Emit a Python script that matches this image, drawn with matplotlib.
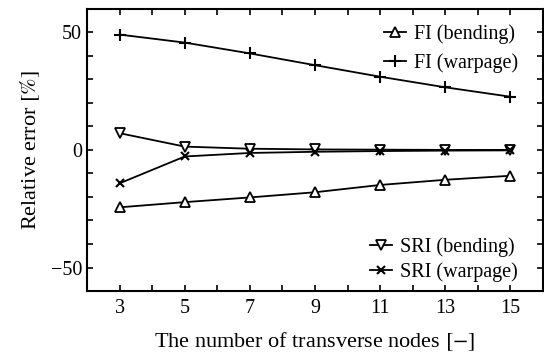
import matplotlib
matplotlib.use("Agg")
import matplotlib.pyplot as plt
from matplotlib.ticker import MultipleLocator, FixedLocator

nodes = [3, 5, 7, 9, 11, 13, 15]
fi_bending = [-24.4, -22.2, -20.2, -18.0, -14.9, -12.7, -11.0]
fi_warpage = [49.0, 45.6, 41.0, 36.0, 31.1, 26.6, 22.6]
sri_bending = [7.1, 1.4, 0.5, 0.2, 0.1, 0.0, 0.0]
sri_warpage = [-14.2, -2.8, -1.3, -0.8, -0.5, -0.3, -0.2]

plt.rcParams['font.family'] = ['Liberation Serif', 'DejaVu Serif']
plt.rcParams['mathtext.fontset'] = 'stix'
plt.rcParams['font.size'] = 14.5

fig = plt.figure(figsize=(5.44, 3.55), dpi=100)
ax = fig.add_axes([0.16, 0.18, 0.838, 0.7955])

lw = 1.3
l1, = ax.plot(nodes, fi_bending, color='black', lw=lw, marker='^', ms=7,
              mfc='white', mec='black', mew=1.3, label='FI (bending)')
l2, = ax.plot(nodes, fi_warpage, color='black', lw=lw, marker='+', ms=8,
              mew=1.5, label='FI (warpage)')
l3, = ax.plot(nodes, sri_bending, color='black', lw=lw, marker='v', ms=7,
              mfc='white', mec='black', mew=1.3, label='SRI (bending)')
l4, = ax.plot(nodes, sri_warpage, color='black', lw=lw, marker='x', ms=6,
              mew=1.5, label='SRI (warpage)')

ax.set_xlim(2, 16)
ax.set_ylim(-60, 60)
ax.xaxis.set_major_locator(FixedLocator(nodes))
ax.xaxis.set_minor_locator(MultipleLocator(1))
ax.yaxis.set_major_locator(MultipleLocator(50))
ax.yaxis.set_minor_locator(MultipleLocator(10))
ax.tick_params(which='both', direction='in', top=True, right=True,
               length=4, width=1.2)
ax.tick_params(axis='x', pad=6)
for s in ax.spines.values():
    s.set_linewidth(1.5)

ax.set_xlabel(r'The number of transverse nodes $[-]$', fontsize=16, labelpad=9)
ax.set_ylabel(r'Relative error $[\%]$', fontsize=16, labelpad=6)

leg1 = ax.legend(handles=[l1, l2], loc='upper right', bbox_to_anchor=(0.959, 0.965),
                 frameon=False, handlelength=1.1, handletextpad=0.4,
                 labelspacing=0.45, borderaxespad=0, borderpad=0.3)
ax.add_artist(leg1)
ax.legend(handles=[l3, l4], loc='lower right', bbox_to_anchor=(0.959, 0.011),
          frameon=False, handlelength=1.1, handletextpad=0.4,
          labelspacing=0.25, borderaxespad=0, borderpad=0.3)

fig.savefig('out.png', dpi=100)
